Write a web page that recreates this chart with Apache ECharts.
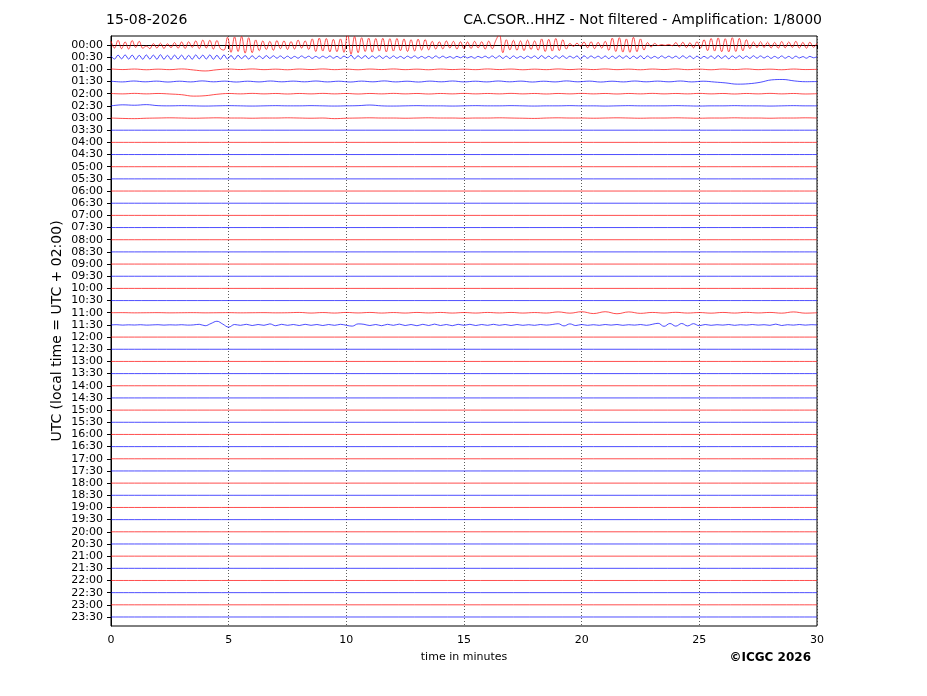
<!DOCTYPE html>
<html>
<head>
<meta charset="utf-8">
<title>CA.CSOR..HHZ helicorder</title>
<script src="https://cdn.jsdelivr.net/npm/echarts@6/dist/echarts.min.js"></script>
<style>
  html, body { margin: 0; padding: 0; background: #fff; }
  #chart { width: 927px; height: 696px; }
</style>
</head>
<body>
<div id="chart"></div>
<script>
// row labels (UTC start of each 30 min line)
var rowLabels = ['00:00','00:30','01:00','01:30','02:00','02:30','03:00','03:30','04:00','04:30',
  '05:00','05:30','06:00','06:30','07:00','07:30','08:00','08:30','09:00','09:30',
  '10:00','10:30','11:00','11:30','12:00','12:30','13:00','13:30','14:00','14:30',
  '15:00','15:30','16:00','16:30','17:00','17:30','18:00','18:30','19:00','19:30',
  '20:00','20:30','21:00','21:30','22:00','22:30','23:00','23:30'];
var minuteTicks = [0, 5, 10, 15, 20, 25, 30];
var lineColors = ['#ff0000', '#0000ff'];
var countsPerRow = 6000;

// amplitudes in counts, samples spread evenly over the 30 minutes of each line
var quiet = [0, 0];

var trace0000 = [
  2000,-1500,2300,-1800,1500,-2000,2200,-1200,1800,-1600,
  -500,-1800,700,-1500,900,-1700,600,-1300,1200,-1600,
  1500,-1700,1600,-1200,2000,-1800,2400,-1500,2300,-2000,
  2200,-1800,-2500,3800,-3600,4000,-3200,4200,-4000,3600,
  -3800,2500,-2800,2000,-2200,1800,-2600,2200,-1800,2000,
  -2200,1700,-2000,2400,-1500,2000,-2200,3000,-3200,3400,
  -3000,3200,-3400,2800,-3300,3000,-3600,5800,-4600,4200,
  -3800,3600,-3200,3400,-3500,3200,-3000,3300,-3400,3100,
  -3000,3200,-2800,3000,-3200,2600,-3000,2900,-2500,2700,
  -2400,1800,-2000,1600,-1900,2000,-1500,1800,-2000,1600,
  -1800,1500,-1700,1800,-1400,1600,-2000,1900,-1800,2200,
  5200,-3800,2600,-2400,2300,-2600,2000,-2800,2400,-2200,
  2000,-2600,3000,-3200,2800,-3000,3200,-2800,2600,-2000,
  800,-700,900,-600,1500,-1400,1600,-1800,1300,-1500,
  1800,-2600,3400,-3200,3600,-3500,3000,-3600,3800,-3300,
  3000,-2500,1200,-1000,800,-300,200,-200,300,-400,
  1200,-1000,1400,-1300,1100,-1400,1600,-1500,2600,-2800,
  3200,-3000,3500,-3300,3100,-3400,3600,-3200,3300,-2900,
  2600,-1800,1500,-1300,1600,-1200,1400,-1500,1300,-1600,
  1700,-1400,1500,-1200,1800,-1500,1300,-1600,1400,-1100,
  900
];

var trace0030 = [
  600,-900,1000,-800,1100,-900,1000,-1100,900,-1000,
  1100,-900,1000,-1000,1200,-1000,900,-1100,1000,-900,
  1000,-1100,900,-1000,1100,-800,1000,-900,1100,-1000,
  900,-1000,1100,-900,800,-1000,900,-700,800,-900,
  700,-800,600,-700,800,-600,700,-500,600,-600,
  500,-600,400,-500,600,-400,500,-600,400,-500,
  500,-400,600,-500,400,-600,500,-300,900,-800,
  700,-600,800,-700,600,-500,700,-600,500,-600,
  600,-500,400,-600,500,-400,600,-500,400,-500,
  400,-500,600,-400,500,-400,300,-500,400,-300,
  500,-400,300,-500,400,-300,500,-400,600,-500,
  700,-600,500,-700,600,-500,400,-600,500,-400,
  600,-700,800,-600,500,-700,600,-500,700,-600,
  500,-400,600,-1000,700,-500,600,-400,500,-600,
  600,-700,500,-600,700,-500,600,-700,500,-600,
  700,-800,600,-500,400,-500,600,-400,500,-400,
  500,-600,700,-500,600,-700,500,-600,400,-500,
  600,-700,800,-600,700,-800,600,-500,700,-600,
  500,-600,700,-500,600,-400,500,-600,400,-500,
  600,-500,400,-600,500,-400,300,-500,400,-300,
  200
];

var trace0100 = [
  200,-100,150,-200,100,-150,200,-300,-800,-200,150,-100,200,-150,100,-200,
  150,-100,200,-150,100,-200,150,-100,200,-150,100,-200,150,-100,100,-150,
  200,-100,150,-200,100,-150,200,-100,150,-100,200,-150,100,-200,150,-100,
  200,-150,100,-200,150,-100,200,-150,100,-200,150,-100,0
];

var trace0130 = [
  150,-200,250,-150,200,-250,150,-200,300,-150,200,-250,150,-200,250,-150,
  200,-150,250,-200,150,-250,200,-150,300,-200,150,-250,200,-150,250,-200,
  150,-200,250,-150,200,-250,150,-200,300,-150,200,-250,150,-200,250,-150,
  200,-150,250,-200,150,-250,-700,-1300,-1100,-400,800,1000,300,-100,0
];

var trace0200 = [
  100,-100,150,-100,100,-150,-500,-1200,-1000,-300,100,-100,150,-100,100,-150,
  100,-100,150,-100,100,-150,100,-100,150,-100,100,-150,100,-100,150,-100,
  100,-100,150,-100,100,-150,100,-100,150,-100,100,-150,100,-100,150,-100,
  100,-100,150,-100,100,-150,100,-100,150,-100,100,-150,0
];

var trace0230 = [
  0,500,300,600,100,0,100,0,-100,0,100,0,-100,0,100,0,
  0,100,0,-100,0,100,400,0,-100,0,100,0,0,-100,0,100,
  0,0,100,0,-100,0,0,100,0,0,-100,0,100,0,0,0,
  100,0,-100,0,0,100,0,0,-100,0,100,0,0
];

var trace0300 = [
  0,-200,-300,-100,0,100,0,-100,0,100,0,0,-100,0,0,100,
  0,-100,0,-300,-100,0,100,0,0,-100,0,100,0,0,-100,0,
  0,100,0,-100,-200,0,100,0,0,-100,0,100,0,-100,0,0,
  100,0,-100,0,0,100,0,0,-100,0,0,100,0
];

var trace1100 = [
  0,50,-50,0,50,-50,0,50,-50,0,50,-50,0,50,-50,0,
  150,-150,100,-150,150,-100,150,-150,100,-150,150,-100,150,-150,100,-150,
  150,-100,150,-150,100,-150,400,-200,500,-400,500,-500,400,-300,150,-150,
  200,-150,100,-200,150,-150,200,-100,150,-200,400,-200,0
];

var trace1130 = [
  0,100,-100,50,-50,100,-100,0,100,-100,50,-50,100,-100,0,300,
  -400,700,1800,400,-1100,200,-200,300,-300,200,-200,500,-400,300,-200,200,
  -300,300,-200,200,-300,200,-200,300,-200,-600,500,300,-300,200,-400,300,
  -200,400,-300,200,-400,300,-300,400,-300,200,-400,300,-200,300,-300,200,
  -200,300,-200,200,-300,200,-200,100,-200,200,-100,200,600,-500,500,-300,
  200,-200,100,-200,200,-100,200,-200,100,-100,200,-200,300,800,-700,700,
  -600,700,-500,600,-400,200,-200,100,-100,200,-200,100,-100,200,-100,100,
  -200,400,-300,100,-100,200,-100,100,0
];

var rowTraces = {0: trace0000, 1: trace0030, 2: trace0100, 3: trace0130, 4: trace0200,
  5: trace0230, 6: trace0300, 22: trace1100, 23: trace1130};

var FONT = 'DejaVu Sans';
var chart = echarts.init(document.getElementById('chart'), null, {renderer: 'canvas'});

var series = rowLabels.map(function (lab, row) {
  var amps = rowTraces[row] || quiet;
  var n = amps.length;
  return {
    name: lab,
    type: 'line',
    showSymbol: false,
    silent: true,
    animation: false,
    smooth: 0.4,
    lineStyle: {color: lineColors[row % 2], width: 0.7},
    data: amps.map(function (a, k) {
      return [k * 30 / (n - 1), row - a / countsPerRow];
    })
  };
});

var option = {
  animation: false,
  textStyle: {fontFamily: FONT},
  title: [
    {text: '15-08-2026', left: 106, top: 13, padding: 0,
      textStyle: {fontFamily: FONT, fontSize: 14, fontWeight: 'normal', color: '#000'}},
    {text: 'CA.CSOR..HHZ - Not filtered - Amplification: 1/8000', right: 105, top: 13, padding: 0,
      textStyle: {fontFamily: FONT, fontSize: 14, fontWeight: 'normal', color: '#000'}},
    {text: '©ICGC 2026', right: 116, top: 652, padding: 0,
      textStyle: {fontFamily: FONT, fontSize: 12, fontWeight: 'bold', color: '#000'}}
  ],
  grid: {left: 111, right: 110, top: 36, bottom: 70, show: true,
    borderColor: '#000', borderWidth: 1, backgroundColor: 'transparent'},
  xAxis: {
    type: 'value', min: 0, max: 30, interval: 5,
    name: 'time in minutes', nameLocation: 'middle', nameGap: 26,
    nameTextStyle: {fontFamily: FONT, fontSize: 11, color: '#000'},
    axisLine: {show: true, lineStyle: {color: '#000', width: 1}},
    axisTick: {show: true, length: 4, lineStyle: {color: '#000'}},
    axisLabel: {fontFamily: FONT, fontSize: 11, color: '#000', margin: 9,
      formatter: function (v) { return minuteTicks.indexOf(v) >= 0 ? String(v) : ''; }},
    splitLine: {show: true, lineStyle: {color: '#333', type: [1, 2], width: 0.8}}
  },
  yAxis: {
    type: 'value', inverse: true, min: -0.74, max: 47.74,
    name: 'UTC (local time = UTC + 02:00)', nameLocation: 'middle', nameGap: 47,
    nameMoveOverlap: false,
    nameRotate: 90,
    nameTextStyle: {fontFamily: FONT, fontSize: 14, color: '#000'},
    axisLine: {show: true, lineStyle: {color: '#000', width: 1}},
    axisTick: {show: true, length: 4, lineStyle: {color: '#000'},
      customValues: rowLabels.map(function (l, i) { return i; })},
    axisLabel: {fontFamily: FONT, fontSize: 11, color: '#000', margin: 8,
      customValues: rowLabels.map(function (l, i) { return i; }),
      formatter: function (v) { return rowLabels[Math.round(v)]; }},
    splitLine: {show: false}
  },
  series: series
};

chart.setOption(option);
</script>
</body>
</html>
